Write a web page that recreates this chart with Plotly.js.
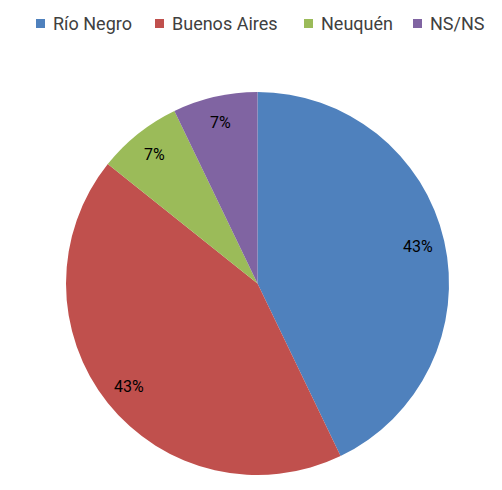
<!DOCTYPE html>
<html><head><meta charset="utf-8">
<script src="https://cdn.plot.ly/plotly-3.0.1.min.js"></script>
<style>html,body{margin:0;padding:0;background:#fff;}#chart{width:502px;height:490px;}</style>
</head><body><div id="chart"></div>
<script>
const categories = ["Río Negro", "Buenos Aires", "Neuquén", "NS/NS"];
const values = [6, 6, 1, 1];
const colors = ["#4F81BD", "#C0504D", "#9BBB59", "#8064A2"];

const W = 502, H = 490;
const pieBox = {left: 66, right: 449, top: 92, bottom: 475};
const labelFrac = 0.86;
const legendSquareX = [36, 155, 304, 413];

const trace = {
  type: "pie",
  labels: categories,
  values: values,
  sort: false,
  direction: "clockwise",
  rotation: 0,
  marker: {colors: colors, line: {width: 0}},
  textinfo: "none",
  domain: {x: [pieBox.left / W, pieBox.right / W], y: [1 - pieBox.bottom / H, 1 - pieBox.top / H]},
  hoverinfo: "none"
};

// percentage labels placed radially from the data
const total = values.reduce((a, b) => a + b, 0);
const cx = (pieBox.left + pieBox.right) / 2, cy = (pieBox.top + pieBox.bottom) / 2;
const R = (pieBox.right - pieBox.left) / 2;
const annotations = [];
let cum = 0;
values.forEach((v, i) => {
  const mid = (cum + v / 2) / total * 2 * Math.PI;
  cum += v;
  const px = cx + labelFrac * R * Math.sin(mid);
  const py = cy - labelFrac * R * Math.cos(mid);
  annotations.push({
    xref: "paper", yref: "paper", x: px / W, y: 1 - py / H,
    text: Math.round(v / total * 100) + "%", showarrow: false,
    xanchor: "center", yanchor: "middle",
    font: {family: "Roboto, sans-serif", size: 16, color: "#000"}
  });
});

// legend row
const shapes = [];
categories.forEach((c, i) => {
  const x0 = legendSquareX[i];
  shapes.push({type: "rect", xref: "paper", yref: "paper",
    x0: x0 / W, x1: (x0 + 9) / W, y0: 1 - 28 / H, y1: 1 - 19 / H,
    fillcolor: colors[i], line: {width: 0}});
  annotations.push({
    xref: "paper", yref: "paper", x: (x0 + 15) / W, y: 1 - 23.5 / H,
    text: c, showarrow: false, xanchor: "left", yanchor: "middle",
    font: {family: "Roboto, sans-serif", size: 18, color: "#404040"}
  });
});

const layout = {
  width: W, height: H,
  margin: {l: 0, r: 0, t: 0, b: 0},
  paper_bgcolor: "#fff",
  showlegend: false,
  annotations: annotations,
  shapes: shapes,
  font: {family: "Roboto, sans-serif"}
};
Plotly.newPlot("chart", [trace], layout, {displayModeBar: false, staticPlot: true});
</script></body></html>
